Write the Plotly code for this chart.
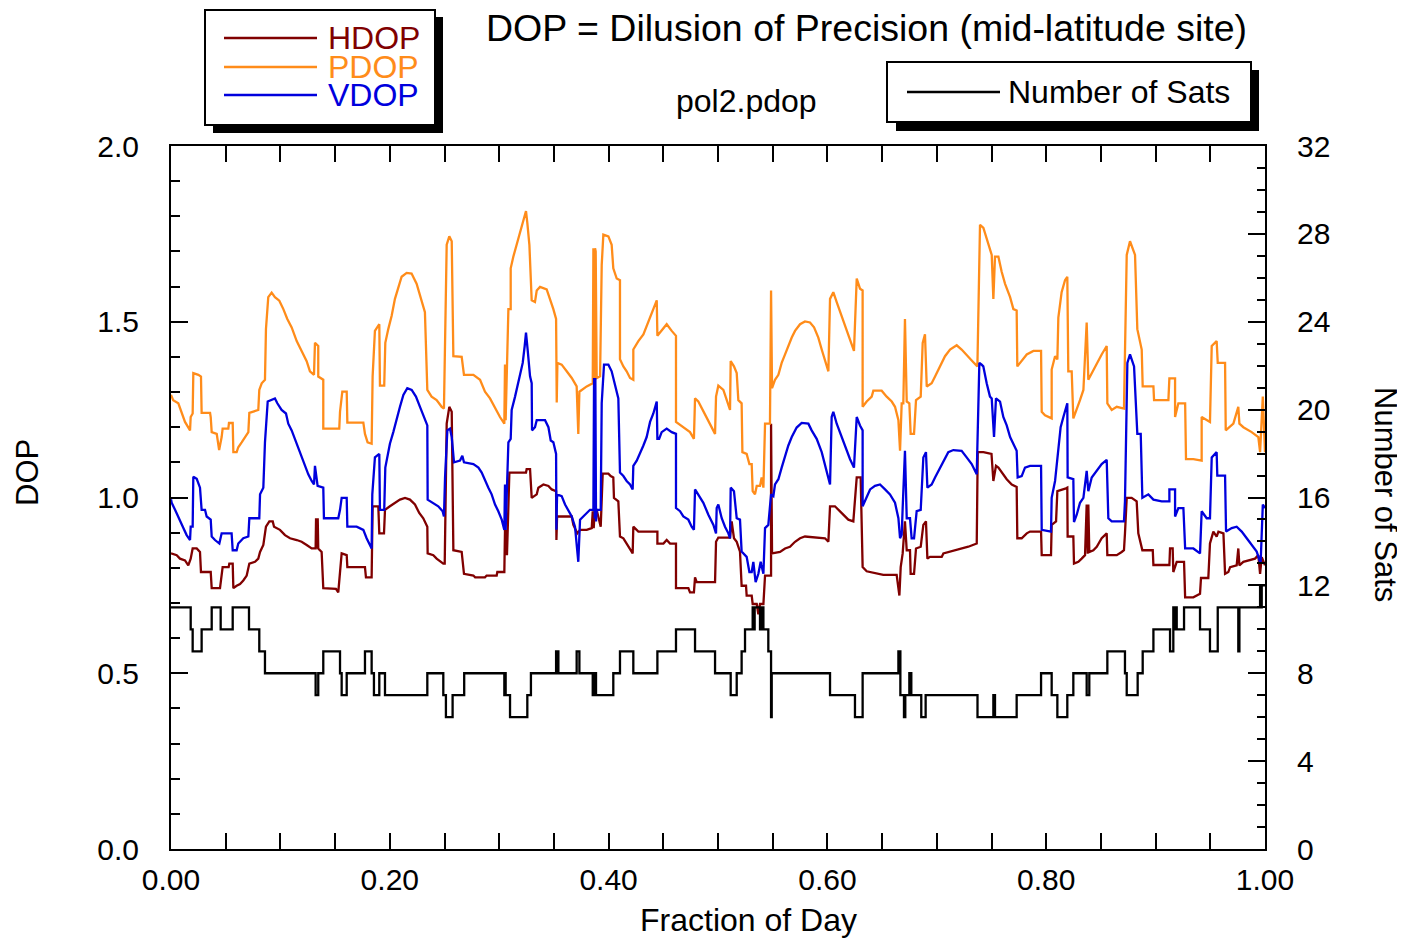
import plotly.graph_objects as go

# ---------------- data ----------------
PDOP_X = [0, 0.002, 0.0067, 0.0098, 0.0128, 0.0174, 0.018, 0.0198, 0.0204, 0.025, 0.0274, 0.028, 0.0357, 0.0363, 0.0372, 0.0418, 0.044, 0.0463, 0.0472, 0.0524, 0.053, 0.0564, 0.057, 0.06, 0.0615, 0.0646, 0.0676, 0.0707, 0.0716, 0.0798, 0.0807, 0.0829, 0.0859, 0.0868, 0.0889, 0.092, 0.095, 0.099, 0.1027, 0.1063, 0.1103, 0.1149, 0.1194, 0.124, 0.127, 0.1307, 0.1316, 0.1346, 0.1346, 0.1392, 0.1392, 0.1538, 0.1545, 0.1566, 0.1606, 0.1612, 0.1758, 0.1773, 0.1797, 0.1834, 0.1843, 0.1864, 0.1904, 0.191, 0.1949, 0.1959, 0.1986, 0.2017, 0.2047, 0.2078, 0.2108, 0.2154, 0.2199, 0.2245, 0.2282, 0.2321, 0.2343, 0.2382, 0.2428, 0.2474, 0.2495, 0.2507, 0.2520, 0.2544, 0.2566, 0.2581, 0.2657, 0.2678, 0.2764, 0.2825, 0.2870, 0.2916, 0.2962, 0.3007, 0.3047, 0.3053, 0.3059, 0.3084, 0.3105, 0.3105, 0.3129, 0.316, 0.319, 0.3215, 0.3245, 0.3257, 0.3276, 0.3297, 0.3327, 0.3343, 0.3373, 0.3434, 0.3465, 0.3495, 0.352, 0.3526, 0.3532, 0.3571, 0.3617, 0.3663, 0.3708, 0.3723, 0.3733, 0.38, 0.3855, 0.3861, 0.3870, 0.3876, 0.3882, 0.3891, 0.3922, 0.3937, 0.3952, 0.3998, 0.4028, 0.4043, 0.4074, 0.4104, 0.4104, 0.4135, 0.4165, 0.4196, 0.4226, 0.4226, 0.4272, 0.4318, 0.4363, 0.4409, 0.444, 0.4446, 0.4485, 0.4531, 0.4577, 0.4616, 0.4616, 0.4683, 0.4744, 0.478, 0.4790, 0.482, 0.4866, 0.4912, 0.4973, 0.4982, 0.5003, 0.5049, 0.5079, 0.511, 0.5116, 0.5146, 0.5171, 0.5186, 0.5216, 0.5223, 0.5262, 0.5287, 0.5308, 0.5317, 0.5338, 0.5354, 0.5384, 0.5399, 0.5415, 0.543, 0.5475, 0.5485, 0.5494, 0.5521, 0.5552, 0.5582, 0.5613, 0.5643, 0.5674, 0.5704, 0.575, 0.5795, 0.5841, 0.5878, 0.5917, 0.5948, 0.5978, 0.6009, 0.6024, 0.6054, 0.6085, 0.613, 0.6176, 0.6222, 0.6243, 0.6268, 0.6298, 0.6322, 0.6322, 0.6359, 0.6405, 0.642, 0.6496, 0.6542, 0.6588, 0.6618, 0.6649, 0.6664, 0.6679, 0.6694, 0.6709, 0.6725, 0.6749, 0.6761, 0.6792, 0.681, 0.6853, 0.6871, 0.6892, 0.6908, 0.6953, 0.6984, 0.7029, 0.7075, 0.7121, 0.7182, 0.7227, 0.7288, 0.7334, 0.7371, 0.7395, 0.7426, 0.7471, 0.7502, 0.7517, 0.7532, 0.7563, 0.7593, 0.7624, 0.767, 0.77, 0.773, 0.7736, 0.7776, 0.7822, 0.7883, 0.7953, 0.7959, 0.7989, 0.805, 0.805, 0.8081, 0.8102, 0.8111, 0.8141, 0.8172, 0.8193, 0.8202, 0.8233, 0.8248, 0.8279, 0.8309, 0.834, 0.837, 0.8385, 0.8416, 0.8462, 0.8507, 0.8553, 0.8559, 0.8599, 0.8645, 0.8711, 0.8736, 0.8766, 0.8812, 0.8833, 0.8873, 0.8882, 0.898, 0.8986, 0.9117, 0.9126, 0.9178, 0.9178, 0.9208, 0.927, 0.9278, 0.9345, 0.9421, 0.9421, 0.9497, 0.9513, 0.9558, 0.9568, 0.9635, 0.9641, 0.9711, 0.9756, 0.9766, 0.9802, 0.9878, 0.9939, 0.9955, 0.998, 1.0]
PDOP_Y = [1.292, 1.277, 1.268, 1.239, 1.215, 1.191, 1.229, 1.239, 1.354, 1.349, 1.344, 1.241, 1.241, 1.229, 1.186, 1.181, 1.135, 1.172, 1.196, 1.196, 1.212, 1.212, 1.129, 1.129, 1.143, 1.157, 1.172, 1.186, 1.241, 1.249, 1.306, 1.325, 1.335, 1.479, 1.570, 1.583, 1.570, 1.560, 1.536, 1.508, 1.484, 1.445, 1.417, 1.388, 1.359, 1.349, 1.44, 1.431, 1.344, 1.335, 1.196, 1.196, 1.244, 1.301, 1.301, 1.213, 1.213, 1.181, 1.157, 1.153, 1.344, 1.474, 1.493, 1.318, 1.318, 1.44, 1.479, 1.517, 1.565, 1.599, 1.628, 1.639, 1.637, 1.608, 1.570, 1.527, 1.306, 1.287, 1.277, 1.258, 1.253, 1.556, 1.719, 1.743, 1.729, 1.402, 1.4, 1.349, 1.349, 1.335, 1.301, 1.282, 1.253, 1.229, 1.21, 1.378, 1.22, 1.536, 1.536, 1.652, 1.685, 1.719, 1.748, 1.781, 1.815, 1.781, 1.719, 1.561, 1.556, 1.589, 1.599, 1.592, 1.565, 1.536, 1.508, 1.27, 1.383, 1.378, 1.359, 1.34, 1.316, 1.181, 1.301, 1.316, 1.325, 1.709, 1.325, 1.709, 1.70, 1.34, 1.345, 1.661, 1.748, 1.743, 1.719, 1.652, 1.623, 1.618, 1.393, 1.373, 1.359, 1.34, 1.335, 1.421, 1.445, 1.464, 1.498, 1.536, 1.561, 1.46, 1.474, 1.493, 1.474, 1.46, 1.215, 1.2, 1.186, 1.167, 1.282, 1.273, 1.244, 1.215, 1.181, 1.287, 1.318, 1.306, 1.277, 1.249, 1.388, 1.373, 1.354, 1.277, 1.268, 1.129, 1.124, 1.095, 1.095, 1.018, 1.009, 1.033, 1.033, 1.057, 1.028, 1.21, 1.21, 1.589, 1.311, 1.335, 1.349, 1.383, 1.407, 1.431, 1.455, 1.474, 1.493, 1.501, 1.498, 1.484, 1.455, 1.421, 1.388, 1.359, 1.565, 1.584, 1.556, 1.517, 1.479, 1.44, 1.417, 1.623, 1.594, 1.589, 1.258, 1.273, 1.287, 1.304, 1.304, 1.287, 1.273, 1.258, 1.22, 1.133, 1.268, 1.268, 1.508, 1.273, 1.268, 1.181, 1.181, 1.277, 1.287, 1.44, 1.464, 1.316, 1.325, 1.344, 1.373, 1.402, 1.421, 1.433, 1.421, 1.402, 1.385, 1.373, 1.776, 1.767, 1.724, 1.69, 1.565, 1.685, 1.685, 1.642, 1.608, 1.57, 1.536, 1.532, 1.373, 1.388, 1.407, 1.417, 1.417, 1.244, 1.234, 1.225, 1.364, 1.402, 1.393, 1.512, 1.584, 1.618, 1.628, 1.359, 1.359, 1.225, 1.249, 1.277, 1.306, 1.498, 1.335, 1.354, 1.383, 1.407, 1.431, 1.268, 1.249, 1.258, 1.253, 1.69, 1.729, 1.69, 1.479, 1.421, 1.316, 1.316, 1.277, 1.277, 1.339, 1.339, 1.229, 1.268, 1.268, 1.109, 1.109, 1.105, 1.229, 1.215, 1.431, 1.445, 1.383, 1.383, 1.191, 1.21, 1.258, 1.21, 1.2, 1.186, 1.172, 1.129, 1.287, 1.129]

VDOP_X = [0, 0.0006, 0.0037, 0.0067, 0.0113, 0.0143, 0.0174, 0.018, 0.0198, 0.0204, 0.0235, 0.0265, 0.028, 0.0311, 0.0326, 0.0363, 0.0372, 0.0402, 0.0442, 0.0463, 0.0554, 0.0564, 0.06, 0.0615, 0.0661, 0.0707, 0.0716, 0.0807, 0.0814, 0.0844, 0.0859, 0.0884, 0.092, 0.095, 0.0972, 0.1011, 0.1051, 0.1072, 0.1103, 0.1133, 0.1164, 0.1194, 0.1225, 0.1255, 0.1286, 0.1307, 0.1316, 0.134, 0.1392, 0.1398, 0.1529, 0.1545, 0.156, 0.1606, 0.1612, 0.1697, 0.1758, 0.1788, 0.1834, 0.184, 0.1864, 0.1904, 0.191, 0.1949, 0.1959, 0.1986, 0.2001, 0.2032, 0.2062, 0.2093, 0.2124, 0.216, 0.22, 0.2239, 0.2276, 0.2312, 0.2343, 0.2346, 0.2398, 0.2443, 0.2483, 0.2495, 0.2505, 0.2526, 0.2550, 0.2566, 0.2587, 0.2642, 0.2663, 0.2678, 0.2764, 0.281, 0.2840, 0.287, 0.2901, 0.2931, 0.2962, 0.2992, 0.3023, 0.3047, 0.3053, 0.3059, 0.3084, 0.3105, 0.3114, 0.3145, 0.3166, 0.319, 0.3215, 0.3233, 0.3245, 0.326, 0.3282, 0.3297, 0.33, 0.3327, 0.3343, 0.3419, 0.345, 0.3471, 0.3495, 0.352, 0.3523, 0.3529, 0.3571, 0.3602, 0.3632, 0.3663, 0.3693, 0.3723, 0.3739, 0.3785, 0.383, 0.3861, 0.3867, 0.3873, 0.3879, 0.3885, 0.3891, 0.3928, 0.3937, 0.3958, 0.3998, 0.4028, 0.4059, 0.4089, 0.4104, 0.4135, 0.4165, 0.4196, 0.422, 0.4226, 0.4257, 0.4287, 0.4318, 0.4348, 0.4379, 0.4409, 0.444, 0.4446, 0.4462, 0.4485, 0.4531, 0.4577, 0.4616, 0.4616, 0.4653, 0.4683, 0.4729, 0.4759, 0.478, 0.479, 0.482, 0.4866, 0.4912, 0.4958, 0.4982, 0.4988, 0.5003, 0.5034, 0.5064, 0.5095, 0.511, 0.5116, 0.5146, 0.5171, 0.5201, 0.5216, 0.5262, 0.5287, 0.5308, 0.5323, 0.5344, 0.5369, 0.539, 0.5415, 0.543, 0.546, 0.5485, 0.5506, 0.5521, 0.5552, 0.5582, 0.5613, 0.5643, 0.5674, 0.5719, 0.5765, 0.5826, 0.5856, 0.5902, 0.5948, 0.5978, 0.6009, 0.6024, 0.6039, 0.6054, 0.6085, 0.613, 0.6176, 0.6207, 0.6243, 0.6268, 0.6298, 0.6322, 0.6322, 0.6359, 0.6390, 0.6435, 0.6481, 0.6527, 0.6572, 0.6618, 0.6649, 0.6664, 0.6679, 0.6688, 0.6709, 0.6725, 0.6755, 0.677, 0.6792, 0.6816, 0.6853, 0.6877, 0.6901, 0.6914, 0.6953, 0.6984, 0.7029, 0.706, 0.7105, 0.7151, 0.7227, 0.7273, 0.7319, 0.7365, 0.7389, 0.741, 0.7425, 0.7456, 0.7486, 0.7502, 0.7523, 0.7541, 0.7578, 0.7608, 0.7639, 0.767, 0.77, 0.773, 0.7739, 0.7776, 0.7806, 0.7852, 0.7953, 0.7959, 0.8044, 0.805, 0.8081, 0.8111, 0.8132, 0.8157, 0.8193, 0.8196, 0.8248, 0.8254, 0.8279, 0.8309, 0.834, 0.837, 0.8385, 0.8416, 0.8462, 0.8507, 0.8553, 0.8568, 0.8599, 0.8711, 0.872, 0.8742, 0.8766, 0.8803, 0.8833, 0.8864, 0.8879, 0.8934, 0.898, 0.9056, 0.9126, 0.9126, 0.9178, 0.9178, 0.9208, 0.9254, 0.927, 0.9345, 0.9406, 0.9421, 0.9467, 0.9497, 0.9513, 0.9558, 0.9564, 0.9635, 0.9644, 0.9696, 0.9741, 0.9787, 0.9833, 0.9878, 0.9924, 0.996, 0.998, 1.0]
VDOP_Y = [0.995, 0.985, 0.965, 0.946, 0.913, 0.893, 0.879, 0.917, 0.917, 1.059, 1.053, 1.028, 0.965, 0.965, 0.946, 0.937, 0.889, 0.879, 0.869, 0.898, 0.898, 0.85, 0.85, 0.869, 0.884, 0.889, 0.941, 0.941, 1.009, 1.028, 1.157, 1.273, 1.277, 1.282, 1.268, 1.249, 1.239, 1.21, 1.191, 1.167, 1.138, 1.114, 1.095, 1.066, 1.047, 1.037, 1.09, 1.033, 1.028, 0.941, 0.941, 0.965, 0.999, 0.999, 0.917, 0.917, 0.908, 0.884, 0.855, 1.009, 1.114, 1.124, 0.965, 0.965, 1.085, 1.124, 1.153, 1.186, 1.225, 1.258, 1.292, 1.311, 1.306, 1.287, 1.258, 1.229, 1.205, 0.994, 0.985, 0.975, 0.961, 0.946, 1.057, 1.191, 1.196, 1.172, 1.1, 1.105, 1.119, 1.1, 1.095, 1.085, 1.071, 1.047, 1.028, 1.009, 0.98, 0.961, 0.937, 0.908, 1.037, 0.908, 1.157, 1.167, 1.249, 1.287, 1.316, 1.349, 1.383, 1.431, 1.469, 1.421, 1.345, 1.325, 1.191, 1.2, 1.22, 1.22, 1.2, 1.162, 1.157, 1.124, 0.908, 1.009, 1.004, 0.98, 0.965, 0.946, 0.917, 0.817, 0.937, 0.951, 0.965, 0.965, 1.34, 0.94, 1.34, 0.932, 0.965, 0.965, 1.268, 1.378, 1.378, 1.359, 1.316, 1.282, 1.071, 1.061, 1.047, 1.037, 1.023, 1.09, 1.105, 1.124, 1.148, 1.172, 1.215, 1.239, 1.273, 1.167, 1.167, 1.186, 1.196, 1.186, 1.181, 0.97, 0.961, 0.946, 0.937, 0.917, 0.908, 1.023, 1.009, 0.985, 0.951, 0.922, 0.898, 0.97, 0.98, 0.941, 0.917, 0.898, 0.884, 1.028, 1.018, 0.941, 0.937, 0.846, 0.831, 0.788, 0.788, 0.817, 0.759, 0.783, 0.817, 0.783, 0.913, 0.922, 1.009, 1.004, 1.037, 1.052, 1.085, 1.119, 1.148, 1.172, 1.199, 1.212, 1.21, 1.191, 1.167, 1.129, 1.095, 1.057, 1.037, 1.229, 1.244, 1.21, 1.172, 1.133, 1.109, 1.085, 1.229, 1.205, 1.191, 0.975, 0.999, 1.023, 1.033, 1.037, 1.023, 1.009, 0.985, 0.941, 0.884, 0.894, 0.97, 1.133, 0.941, 0.941, 0.884, 0.884, 0.961, 0.965, 1.114, 1.129, 1.028, 1.037, 1.057, 1.085, 1.105, 1.129, 1.135, 1.133, 1.114, 1.095, 1.066, 1.383, 1.378, 1.373, 1.325, 1.287, 1.282, 1.172, 1.282, 1.273, 1.229, 1.205, 1.172, 1.153, 1.133, 1.057, 1.061, 1.085, 1.09, 1.09, 0.908, 0.903, 0.999, 1.047, 1.133, 1.2, 1.229, 1.268, 1.057, 1.052, 0.93, 0.951, 0.985, 0.999, 1.076, 1.018, 1.057, 1.076, 1.095, 1.107, 0.941, 0.932, 0.932, 0.989, 1.383, 1.407, 1.373, 1.181, 1.181, 0.999, 1.009, 0.994, 0.989, 0.989, 1.023, 1.023, 0.946, 0.97, 0.97, 0.855, 0.855, 0.841, 0.961, 0.941, 0.941, 1.114, 1.129, 1.062, 1.062, 0.903, 0.913, 0.917, 0.903, 0.884, 0.865, 0.846, 0.812, 0.98, 0.97]

HDOP_X = [0, 0.0052, 0.0082, 0.0128, 0.0158, 0.018, 0.0198, 0.0235, 0.0265, 0.0274, 0.0363, 0.0372, 0.0448, 0.0472, 0.0527, 0.0533, 0.0564, 0.057, 0.06, 0.0631, 0.0661, 0.0692, 0.0716, 0.0768, 0.0798, 0.0814, 0.0844, 0.0868, 0.0899, 0.093, 0.0942, 0.0996, 0.1042, 0.1088, 0.1149, 0.1194, 0.124, 0.1286, 0.1322, 0.1326, 0.1336, 0.1341, 0.1346, 0.1377, 0.1392, 0.1508, 0.1529, 0.1545, 0.156, 0.1606, 0.1612, 0.1773, 0.1782, 0.1834, 0.1843, 0.1895, 0.1904, 0.1947, 0.1956, 0.2001, 0.2047, 0.2093, 0.2139, 0.2184, 0.223, 0.2269, 0.2306, 0.2343, 0.2346, 0.2398, 0.2428, 0.2489, 0.2502, 0.2520, 0.2544, 0.2566, 0.2581, 0.2657, 0.2678, 0.2764, 0.278, 0.287, 0.2885, 0.2977, 0.2983, 0.3047, 0.3053, 0.3059, 0.3065, 0.3071, 0.3093, 0.3245, 0.3251, 0.3282, 0.3297, 0.3343, 0.3358, 0.3404, 0.345, 0.348, 0.352, 0.3523, 0.3529, 0.3663, 0.3678, 0.3714, 0.3739, 0.38, 0.3846, 0.3855, 0.3864, 0.3873, 0.3891, 0.3928, 0.3946, 0.3998, 0.4019, 0.4043, 0.4049, 0.4089, 0.4104, 0.4135, 0.4165, 0.4196, 0.422, 0.4226, 0.4272, 0.4446, 0.4446, 0.4501, 0.4531, 0.4562, 0.4616, 0.4616, 0.4729, 0.4744, 0.478, 0.479, 0.4805, 0.4973, 0.4982, 0.5003, 0.511, 0.5125, 0.5146, 0.5171, 0.5201, 0.5216, 0.5256, 0.5262, 0.5308, 0.5317, 0.5354, 0.5369, 0.5384, 0.5415, 0.543, 0.5485, 0.5485, 0.5494, 0.5567, 0.5613, 0.5658, 0.5704, 0.575, 0.5795, 0.5978, 0.6009, 0.6024, 0.6069, 0.61, 0.6146, 0.6191, 0.6237, 0.6268, 0.6304, 0.6322, 0.6359, 0.6481, 0.6511, 0.6633, 0.6658, 0.667, 0.6688, 0.6709, 0.6725, 0.6755, 0.6761, 0.6792, 0.681, 0.6853, 0.6877, 0.6901, 0.6914, 0.6938, 0.7045, 0.706, 0.7105, 0.7182, 0.7288, 0.7365, 0.7374, 0.7426, 0.75, 0.7517, 0.7541, 0.7563, 0.7593, 0.7639, 0.7685, 0.773, 0.7736, 0.7776, 0.7822, 0.7852, 0.7953, 0.7959, 0.8044, 0.805, 0.809, 0.8102, 0.8181, 0.8193, 0.8196, 0.8248, 0.8254, 0.8294, 0.8324, 0.8355, 0.837, 0.838, 0.8385, 0.8394, 0.8431, 0.8462, 0.8507, 0.8553, 0.8559, 0.8645, 0.869, 0.8711, 0.872, 0.8736, 0.8781, 0.8827, 0.8842, 0.8879, 0.8974, 0.898, 0.9126, 0.9132, 0.9156, 0.9162, 0.9193, 0.926, 0.927, 0.9345, 0.9406, 0.9415, 0.9482, 0.9497, 0.9528, 0.9558, 0.9574, 0.962, 0.9635, 0.9665, 0.9681, 0.9741, 0.9756, 0.9766, 0.9802, 0.9863, 0.9909, 0.9939, 0.9955, 0.997, 1.0]
HDOP_Y = [0.841, 0.836, 0.826, 0.821, 0.807, 0.826, 0.855, 0.855, 0.845, 0.788, 0.788, 0.742, 0.742, 0.802, 0.802, 0.812, 0.812, 0.742, 0.749, 0.754, 0.764, 0.778, 0.812, 0.817, 0.826, 0.845, 0.865, 0.917, 0.932, 0.932, 0.917, 0.908, 0.893, 0.884, 0.879, 0.874, 0.865, 0.855, 0.855, 0.941, 0.855, 0.941, 0.855, 0.845, 0.742, 0.74, 0.73, 0.788, 0.841, 0.836, 0.802, 0.802, 0.773, 0.773, 0.975, 0.975, 0.898, 0.898, 0.965, 0.975, 0.985, 0.994, 0.999, 0.994, 0.98, 0.956, 0.941, 0.917, 0.841, 0.836, 0.826, 0.812, 0.812, 1.21, 1.258, 1.244, 0.85, 0.845, 0.783, 0.778, 0.773, 0.773, 0.778, 0.778, 0.788, 0.788, 0.908, 0.836, 0.908, 0.836, 1.071, 1.071, 1.081, 1.081, 0.999, 1.009, 1.028, 1.037, 1.033, 1.023, 1.018, 0.879, 0.946, 0.946, 0.922, 0.898, 0.908, 0.908, 0.913, 0.961, 0.913, 0.965, 0.965, 0.917, 1.068, 1.068, 1.061, 1.057, 0.999, 0.989, 0.889, 0.884, 0.869, 0.855, 0.841, 0.917, 0.903, 0.903, 0.869, 0.869, 0.879, 0.869, 0.869, 0.742, 0.742, 0.73, 0.73, 0.773, 0.759, 0.759, 0.874, 0.886, 0.886, 0.932, 0.884, 0.874, 0.846, 0.749, 0.749, 0.721, 0.721, 0.697, 0.697, 0.668, 0.697, 0.697, 0.778, 0.778, 1.21, 0.841, 0.845, 0.855, 0.86, 0.874, 0.884, 0.889, 0.884, 0.874, 0.975, 0.975, 0.965, 0.951, 0.937, 0.932, 1.057, 1.057, 0.802, 0.79, 0.783, 0.78, 0.78, 0.721, 0.802, 0.841, 0.932, 0.85, 0.85, 0.783, 0.783, 0.855, 0.86, 0.922, 0.932, 0.826, 0.831, 0.831, 0.841, 0.845, 0.85, 0.86, 0.869, 1.129, 1.129, 1.124, 1.047, 1.09, 1.085, 1.071, 1.052, 1.037, 1.03, 0.884, 0.884, 0.898, 0.903, 0.903, 0.836, 0.836, 0.922, 0.932, 1.018, 1.026, 1.028, 0.889, 0.889, 0.812, 0.817, 0.826, 0.836, 0.98, 0.84, 0.98, 0.845, 0.85, 0.86, 0.884, 0.898, 0.836, 0.836, 0.845, 0.85, 0.898, 0.999, 0.999, 0.989, 0.898, 0.85, 0.85, 0.808, 0.808, 0.855, 0.855, 0.788, 0.817, 0.817, 0.716, 0.716, 0.726, 0.771, 0.771, 0.869, 0.903, 0.889, 0.903, 0.898, 0.783, 0.788, 0.802, 0.807, 0.855, 0.807, 0.817, 0.821, 0.826, 0.836, 0.783, 0.83, 0.807]

# Number of satellites: step changes (start of each level)
SATS_X = [0, 0.018, 0.0198, 0.028, 0.0372, 0.0454, 0.0564, 0.0713, 0.0807, 0.0859, 0.1322, 0.1346, 0.1392, 0.1545, 0.156, 0.1606, 0.1773, 0.1834, 0.1855, 0.1904, 0.1956, 0.2343, 0.2489, 0.2513, 0.2574, 0.2680, 0.3047, 0.3053, 0.3059, 0.3099, 0.3257, 0.3290, 0.352, 0.3541, 0.3708, 0.3733, 0.3855, 0.3867, 0.3885, 0.4043, 0.4104, 0.4226, 0.4446, 0.4616, 0.479, 0.4973, 0.5116, 0.5171, 0.5216, 0.5247, 0.5317, 0.5329, 0.5335, 0.5384, 0.539, 0.5406, 0.5412, 0.5415, 0.5460, 0.5485, 0.5491, 0.6024, 0.6252, 0.6322, 0.6649, 0.6667, 0.6700, 0.6712, 0.6749, 0.6767, 0.6858, 0.6898, 0.7372, 0.7517, 0.7532, 0.773, 0.7953, 0.805, 0.8102, 0.8193, 0.8248, 0.837, 0.8394, 0.8559, 0.872, 0.8736, 0.8836, 0.8882, 0.898, 0.9132, 0.9162, 0.9168, 0.9175, 0.9193, 0.926, 0.9406, 0.9497, 0.9568, 0.9756, 0.9766, 0.9955, 0.9965, 0.997, 1.0]
SATS_Y = [11, 10, 9, 10, 11, 10, 11, 10, 9, 8, 7, 8, 9, 8, 7, 8, 9, 8, 7, 8, 7, 8, 7, 6, 7, 8, 7, 8, 7, 6, 7, 8, 9, 8, 9, 8, 7, 8, 7, 8, 9, 8, 9, 10, 9, 8, 7, 8, 9, 10, 11, 10, 11, 10, 11, 10, 11, 10, 9, 6, 8, 7, 6, 8, 9, 7, 6, 7, 8, 7, 6, 7, 6, 7, 6, 7, 8, 7, 6, 7, 8, 7, 8, 9, 8, 7, 8, 9, 10, 9, 11, 10, 11, 10, 11, 10, 9, 11, 9, 11, 12, 11, 12, 12]

SERIES = ["HDOP", "PDOP", "VDOP"]
COLORS = {"HDOP": "#800000", "PDOP": "#FF8C1A", "VDOP": "#0000DD"}
X_TICKS = [0, 0.2, 0.4, 0.6, 0.8, 1.0]
Y_TICKS = [0, 0.5, 1.0, 1.5, 2.0]
Y2_TICKS = [0, 4, 8, 12, 16, 20, 24, 28, 32]

FONT = "Liberation Sans, Arial, Helvetica, sans-serif"
LW = 2.3

# plot-area frame in page pixels (the page body adds an 8px offset)
OFF = 8
L, R, T, B = 171, 1265, 146, 849
W, H = 1405, 940
def PX(x):
    return (x - L) / (R - L)
def PY(y):
    return (B - y) / (B - T)

fig = go.Figure()
for name, xs, ys in [("HDOP", HDOP_X, HDOP_Y), ("PDOP", PDOP_X, PDOP_Y), ("VDOP", VDOP_X, VDOP_Y)]:
    fig.add_trace(go.Scatter(x=xs, y=ys, mode="lines", name=name,
                             line=dict(color=COLORS[name], width=LW), showlegend=False))
fig.add_trace(go.Scatter(x=SATS_X, y=SATS_Y, mode="lines", name="Number of Sats",
                         line=dict(color="black", width=LW, shape="hv"), yaxis="y2",
                         showlegend=False))

axis_common = dict(showline=True, linecolor="black", linewidth=2, showgrid=False,
                   zeroline=False, ticks="inside", tickcolor="black", tickwidth=2,
                   tickfont=dict(family=FONT, size=30, color="black"))

fig.update_layout(
    width=W, height=H, autosize=False,
    margin=dict(l=L - OFF, r=W - (R - OFF), t=T - OFF, b=H - (B - OFF)),
    paper_bgcolor="white", plot_bgcolor="white",
    xaxis=dict(range=[0, 1], tickvals=X_TICKS, tickformat=".2f", ticklen=16,
               mirror="allticks",
               minor=dict(dtick=0.05, ticklen=8, ticks="inside", tickcolor="black", tickwidth=2, showgrid=False),
               ticklabelstandoff=3, **axis_common),
    yaxis=dict(range=[0, 2], tickvals=Y_TICKS, tickformat=".1f", ticklen=17,
               minor=dict(dtick=0.1, ticklen=9, ticks="inside", tickcolor="black", tickwidth=2, showgrid=False),
               ticklabelstandoff=24, **axis_common),
    yaxis2=dict(range=[0, 32], tickvals=Y2_TICKS, overlaying="y", side="right", ticklen=17,
                minor=dict(dtick=1, ticklen=8, ticks="inside", tickcolor="black", tickwidth=2, showgrid=False),
                ticklabelstandoff=24, **axis_common),
)

shapes = []
annotations = []

# left legend box with drop shadow
shapes.append(dict(type="rect", xref="paper", yref="paper", x0=PX(213), x1=PX(443), y0=PY(133), y1=PY(17),
                   fillcolor="black", line=dict(width=0), layer="above"))
shapes.append(dict(type="rect", xref="paper", yref="paper", x0=PX(205), x1=PX(435), y0=PY(125), y1=PY(10),
                   fillcolor="white", line=dict(color="black", width=2), layer="above"))
for name, yy in zip(SERIES, [38, 67, 95]):
    shapes.append(dict(type="line", xref="paper", yref="paper", x0=PX(224), x1=PX(317), y0=PY(yy), y1=PY(yy),
                       line=dict(color=COLORS[name], width=LW), layer="above"))
    annotations.append(dict(x=PX(326), y=PY(yy), xref="paper", yref="paper", text=name, showarrow=False,
                            xanchor="left", yanchor="middle", font=dict(family=FONT, size=32, color=COLORS[name])))

# right legend box with drop shadow
shapes.append(dict(type="rect", xref="paper", yref="paper", x0=PX(896), x1=PX(1259), y0=PY(131), y1=PY(70),
                   fillcolor="black", line=dict(width=0), layer="above"))
shapes.append(dict(type="rect", xref="paper", yref="paper", x0=PX(887), x1=PX(1251), y0=PY(122), y1=PY(62),
                   fillcolor="white", line=dict(color="black", width=2), layer="above"))
shapes.append(dict(type="line", xref="paper", yref="paper", x0=PX(907), x1=PX(1000), y0=PY(92), y1=PY(92),
                   line=dict(color="black", width=LW), layer="above"))
annotations.append(dict(x=PX(1006), y=PY(92), xref="paper", yref="paper", text="Number of Sats", showarrow=False,
                        xanchor="left", yanchor="middle", font=dict(family=FONT, size=32, color="black")))

# titles
annotations.append(dict(x=PX(866), y=PY(28), xref="paper", yref="paper",
                        text="DOP = Dilusion of Precision (mid-latitude site)", showarrow=False,
                        xanchor="center", yanchor="middle", font=dict(family=FONT, size=37.5, color="black")))
annotations.append(dict(x=PX(746), y=PY(101), xref="paper", yref="paper", text="pol2.pdop", showarrow=False,
                        xanchor="center", yanchor="middle", font=dict(family=FONT, size=32, color="black")))
annotations.append(dict(x=PX(748), y=PY(920), xref="paper", yref="paper", text="Fraction of Day", showarrow=False,
                        xanchor="center", yanchor="middle", font=dict(family=FONT, size=32, color="black")))
annotations.append(dict(x=PX(27), y=PY(473), xref="paper", yref="paper", text="DOP", showarrow=False,
                        textangle=-90, xanchor="center", yanchor="middle",
                        font=dict(family=FONT, size=31, color="black")))
annotations.append(dict(x=PX(1385), y=PY(494), xref="paper", yref="paper", text="Number of Sats", showarrow=False,
                        textangle=90, xanchor="center", yanchor="middle",
                        font=dict(family=FONT, size=31, color="black")))

fig.update_layout(shapes=shapes, annotations=annotations)
fig.write_html("out.html")
